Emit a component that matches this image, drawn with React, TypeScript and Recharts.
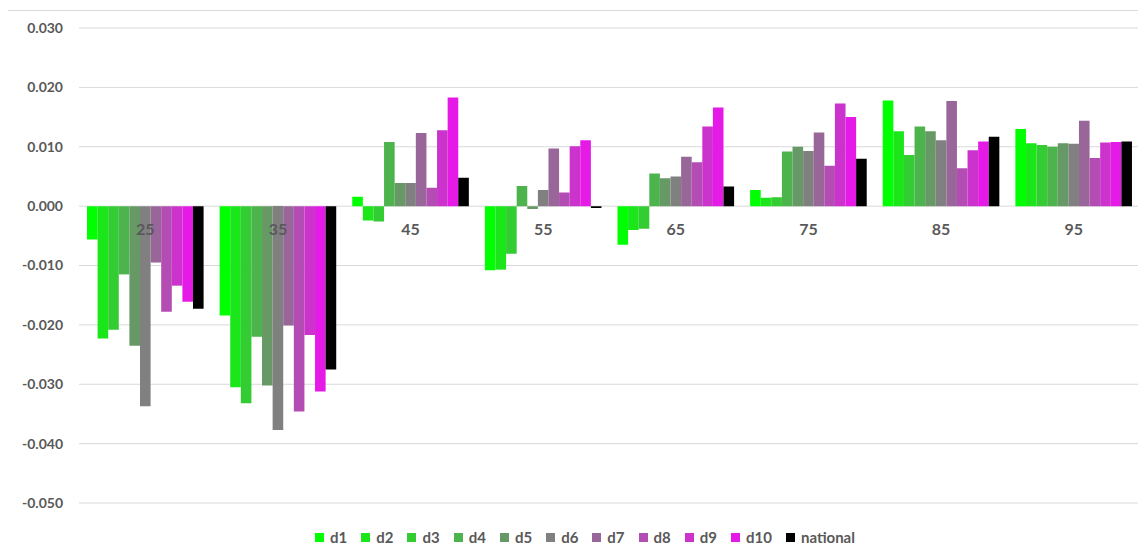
import React from 'react';
import { BarChart, Bar, XAxis, YAxis, CartesianGrid, Legend } from 'recharts';

const categories = ['25', '35', '45', '55', '65', '75', '85', '95'];

const d1 = [-0.0056, -0.0184, 0.0016, -0.0108, -0.0065, 0.0027, 0.0178, 0.013];
const d2 = [-0.0223, -0.0305, -0.0024, -0.0107, -0.004, 0.0014, 0.0126, 0.0106];
const d3 = [-0.0208, -0.0332, -0.0026, -0.008, -0.0038, 0.0015, 0.0086, 0.0103];
const d4 = [-0.0115, -0.022, 0.0108, 0.0034, 0.0055, 0.0092, 0.0134, 0.01];
const d5 = [-0.0235, -0.0302, 0.0039, -0.0005, 0.0047, 0.01, 0.0126, 0.0106];
const d6 = [-0.0337, -0.0377, 0.0039, 0.0027, 0.005, 0.0093, 0.0111, 0.0105];
const d7 = [-0.0095, -0.0201, 0.0123, 0.0097, 0.0083, 0.0124, 0.0177, 0.0144];
const d8 = [-0.0178, -0.0346, 0.0031, 0.0023, 0.0074, 0.0068, 0.0064, 0.0081];
const d9 = [-0.0134, -0.0217, 0.0128, 0.0101, 0.0134, 0.0173, 0.0094, 0.0107];
const d10 = [-0.0161, -0.0312, 0.0183, 0.0111, 0.0166, 0.015, 0.0109, 0.0108];
const national = [-0.0173, -0.0275, 0.0048, -0.0003, 0.0033, 0.008, 0.0117, 0.0109];

const yTicks = [-0.05, -0.04, -0.03, -0.02, -0.01, 0, 0.01, 0.02, 0.03];

const series = [
  { key: 'd1', values: d1, color: '#00ff00' },
  { key: 'd2', values: d2, color: '#1ae61a' },
  { key: 'd3', values: d3, color: '#33cc33' },
  { key: 'd4', values: d4, color: '#4db34d' },
  { key: 'd5', values: d5, color: '#669966' },
  { key: 'd6', values: d6, color: '#808080' },
  { key: 'd7', values: d7, color: '#996699' },
  { key: 'd8', values: d8, color: '#b34db3' },
  { key: 'd9', values: d9, color: '#cc33cc' },
  { key: 'd10', values: d10, color: '#e61ae6' },
  { key: 'national', values: national, color: '#000000' },
];

const data = categories.map((c, i) => {
  const row: Record<string, string | number> = { age: c };
  series.forEach(s => { row[s.key] = s.values[i]; });
  return row;
});

const W = 1138;
const H = 548;
const TOP = 17;
const PLOT_H = 475;
const Y_MIN = -0.05;
const Y_MAX = 0.03;
const FONT = "Lato, 'Open Sans', sans-serif";
const GREY = '#595959';

// the category labels sit just under the zero line, as in Excel
const zeroY = TOP + (PLOT_H * Y_MAX) / (Y_MAX - Y_MIN);

const CategoryTick = (props: any) => {
  const { x, payload } = props;
  return (
    <text x={x} y={zeroY + 29} textAnchor="middle" fill={GREY} fontSize={16} fontWeight={700} fontFamily={FONT}>
      {payload.value}
    </text>
  );
};

// keep the series order (recharts sorts legend items by name otherwise)
const LegendContent = () => (
  <div style={{ display: 'flex', justifyContent: 'center', alignItems: 'center', height: 20, paddingLeft: 36 }}>
    {series.map(s => (
      <div key={s.key} style={{ display: 'flex', alignItems: 'center', marginRight: 14 }}>
        <span style={{ width: 9, height: 9, background: s.color, marginRight: 6, display: 'inline-block' }} />
        <span style={{ color: GREY, fontSize: 15, fontWeight: 700, fontFamily: FONT }}>{s.key}</span>
      </div>
    ))}
  </div>
);

export default function App() {
  return (
    <div style={{ marginLeft: -1, marginTop: 2, borderTop: '1px solid #d9d9d9', borderLeft: '1px solid #d9d9d9', width: W }}>
      <BarChart
        width={W}
        height={H}
        data={data}
        margin={{ top: TOP, right: 6, left: 0, bottom: 12 }}
        barSize={10.6}
        barGap={0}
      >
        <CartesianGrid vertical={false} stroke="#d9d9d9" strokeWidth={1} />
        <XAxis dataKey="age" axisLine={false} tickLine={false} height={24} tick={<CategoryTick />} interval={0} />
        <YAxis
          domain={[Y_MIN, Y_MAX]}
          ticks={yTicks}
          width={71}
          axisLine={false}
          tickLine={false}
          tickMargin={10}
          tickFormatter={(v: number) => v.toFixed(3)}
          tick={{ fill: GREY, fontSize: 14, fontWeight: 700, fontFamily: FONT }}
          allowDataOverflow
        />
        <Legend verticalAlign="bottom" content={<LegendContent />} />
        {series.map(s => (
          <Bar key={s.key} dataKey={s.key} name={s.key} fill={s.color} isAnimationActive={false} />
        ))}
      </BarChart>
    </div>
  );
}
